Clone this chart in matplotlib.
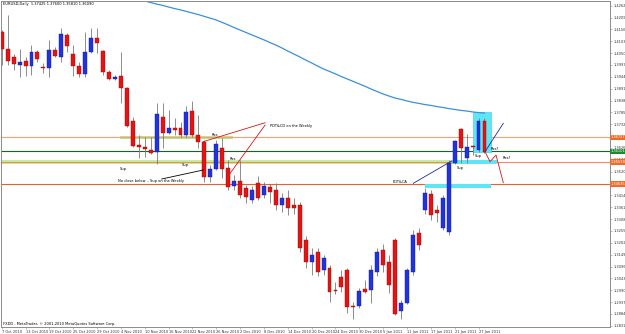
import matplotlib
matplotlib.use("Agg")
import matplotlib.pyplot as plt
from matplotlib.patches import Rectangle
import matplotlib.transforms as mtransforms

# ---------------- data ----------------
date_labels = ["7 Oct 2010", "13 Oct 2010", "19 Oct 2010", "25 Oct 2010", "29 Oct 2010",
               "4 Nov 2010", "10 Nov 2010", "16 Nov 2010", "22 Nov 2010", "26 Nov 2010",
               "2 Dec 2010", "8 Dec 2010", "14 Dec 2010", "20 Dec 2010", "24 Dec 2010",
               "30 Dec 2010", "5 Jan 2011", "11 Jan 2011", "17 Jan 2011", "21 Jan 2011",
               "27 Jan 2011"]
date_bars = [0, 4, 8, 12, 16, 20, 24, 28, 32, 36, 40, 44, 48, 52, 56, 60, 64, 68, 72, 76, 80]

opens = [1.4144, 1.4068, 1.4032, 1.3997, 1.4015, 1.3992, 1.4055, 1.3984, 1.3983, 1.4064,
         1.4032, 1.4131, 1.4046, 1.3992, 1.3957, 1.4055, 1.4117, 1.4059, 1.3965, 1.3934,
         1.3947, 1.3894, 1.3746, 1.3639, 1.3630, 1.3617, 1.3608, 1.3764, 1.3693, 1.3715,
         1.3715, 1.3684, 1.3791, 1.3684, 1.3653, 1.3496, 1.3532, 1.3626, 1.3536, 1.3456,
         1.3478, 1.3447, 1.3393, 1.3469, 1.3416, 1.3451, 1.3438, 1.3371, 1.3402, 1.3371,
         1.3371, 1.3215, 1.3116, 1.3161, 1.3080, 1.3089, 1.2991, 1.3049, 1.3080, 1.2920,
         1.2921, 1.2995, 1.2991, 1.3071, 1.3170, 1.3116, 1.3215, 1.2898, 1.2934, 1.3071,
         1.3246, 1.3349, 1.3420, 1.3349, 1.3268, 1.3250, 1.3557, 1.3711, 1.3580, 1.3629,
         1.3617, 1.3746]
highs = [1.4153, 1.4220, 1.4046, 1.4068, 1.4032, 1.4086, 1.4064, 1.4006, 1.4109, 1.4077,
         1.4162, 1.4140, 1.4086, 1.4010, 1.4144, 1.4162, 1.4162, 1.4064, 1.3974, 1.3952,
         1.4055, 1.3898, 1.3764, 1.3684, 1.3675, 1.3675, 1.3827, 1.3827, 1.3796, 1.3760,
         1.3742, 1.3812, 1.3836, 1.3773, 1.3662, 1.3550, 1.3662, 1.3671, 1.3572, 1.3505,
         1.3572, 1.3460, 1.3456, 1.3501, 1.3474, 1.3465, 1.3469, 1.3425, 1.3438, 1.3402,
         1.3384, 1.3232, 1.3179, 1.3179, 1.3148, 1.3103, 1.3027, 1.3080, 1.3089, 1.2939,
         1.3000, 1.3036, 1.3103, 1.3179, 1.3197, 1.3148, 1.3224, 1.2946, 1.3089, 1.3259,
         1.3268, 1.3447, 1.3438, 1.3371, 1.3416, 1.3572, 1.3662, 1.3715, 1.3688, 1.3639,
         1.3760, 1.3760]
lows = [1.3997, 1.3997, 1.3974, 1.3943, 1.3947, 1.3952, 1.4010, 1.3961, 1.3943, 1.4032,
        1.4010, 1.4055, 1.3947, 1.3943, 1.3943, 1.4050, 1.4050, 1.3952, 1.3930, 1.3930,
        1.3827, 1.3720, 1.3630, 1.3581, 1.3586, 1.3599, 1.3554, 1.3626, 1.3688, 1.3684,
        1.3675, 1.3675, 1.3675, 1.3626, 1.3474, 1.3474, 1.3527, 1.3492, 1.3438, 1.3438,
        1.3402, 1.3380, 1.3380, 1.3393, 1.3402, 1.3380, 1.3349, 1.3340, 1.3326, 1.3331,
        1.3161, 1.3089, 1.3058, 1.3054, 1.3058, 1.2937, 1.2973, 1.2982, 1.2888, 1.2860,
        1.2911, 1.2978, 1.2933, 1.3054, 1.3071, 1.2978, 1.2879, 1.2860, 1.2929, 1.3058,
        1.3170, 1.3331, 1.3304, 1.3295, 1.3259, 1.3237, 1.3554, 1.3559, 1.3559, 1.3594,
        1.3609, 1.3603]
closes = [1.4068, 1.4015, 1.4001, 1.4010, 1.3992, 1.4055, 1.4024, 1.3982, 1.4064, 1.4037,
          1.4135, 1.4082, 1.3992, 1.3957, 1.4055, 1.4117, 1.4095, 1.3965, 1.3934, 1.3943,
          1.3894, 1.3724, 1.3635, 1.3630, 1.3621, 1.3603, 1.3778, 1.3693, 1.3715, 1.3708,
          1.3684, 1.3787, 1.3684, 1.3653, 1.3496, 1.3532, 1.3644, 1.3532, 1.3451, 1.3478,
          1.3416, 1.3407, 1.3438, 1.3402, 1.3456, 1.3429, 1.3371, 1.3402, 1.3358, 1.3358,
          1.3179, 1.3116, 1.3148, 1.3071, 1.3134, 1.2982, 1.2987, 1.3004, 1.2916, 1.2915,
          1.2987, 1.2983, 1.3080, 1.3161, 1.3103, 1.3013, 1.2882, 1.2934, 1.3080, 1.3237,
          1.3192, 1.3425, 1.3326, 1.3335, 1.3402, 1.3559, 1.3658, 1.3626, 1.3632, 1.3628,
          1.3746, 1.3609]

ma_first_bar = 24
ma_values = [1.4283, 1.4276, 1.4269, 1.4263, 1.4256, 1.4249, 1.4243, 1.4236, 1.4229, 1.4222,
             1.4214, 1.4206, 1.4198, 1.4187, 1.4176, 1.4164, 1.4153, 1.4142, 1.4131, 1.4120,
             1.4109, 1.4097, 1.4086, 1.4073, 1.4059, 1.4046, 1.4033, 1.4019, 1.4006, 1.3992,
             1.3979, 1.3968, 1.3957, 1.3945, 1.3934, 1.3923, 1.3912, 1.3901, 1.3889, 1.3878,
             1.3867, 1.3858, 1.3849, 1.3843, 1.3836, 1.3830, 1.3825, 1.3820, 1.3816, 1.3811,
             1.3807, 1.3802, 1.3798, 1.3794, 1.3791, 1.3787, 1.3784, 1.3782]

price_ticks = [1.2831, 1.2884, 1.2937, 1.2990, 1.3043, 1.3096, 1.3149, 1.3202, 1.3255, 1.3308,
               1.3361, 1.3414, 1.3467, 1.3520, 1.3573, 1.3626, 1.3679, 1.3732, 1.3785, 1.3838,
               1.3891, 1.3944, 1.3997, 1.4050, 1.4103, 1.4156, 1.4209, 1.4262]

# horizontal levels: price, colour, label-box colour
levels = [(1.36727, "#f2a07e", "#f26a2a"),
          (1.36101, "#0b6b1e", "#1e8a2e"),
          (1.35618, "#f08a60", "#f26a2a"),
          (1.34635, "#e0603a", "#f26a2a")]

title_text = "EURUSD,Daily  1.37425 1.37600 1.35810 1.36090"
footer_text = "FXDD - MetaTrader, \u00a9 2001-2010 MetaQuotes Software Corp."

# ---------------- figure ----------------
W, H = 625, 334
fig = plt.figure(figsize=(W / 100, H / 100), dpi=100)
fig.patch.set_facecolor("white")
ax = fig.add_axes([0.5 / W, (H - 327.3) / H, (610 - 0.5) / W, (327.3 - 1) / H])
ax.set_xlim(-0.2, 102.06)
ax.set_ylim(1.28243, 1.42828)
ax.set_facecolor("white")

FS = 2.6
grey = "#8c8c8c"
for s in ax.spines.values():
    s.set_color(grey)
    s.set_linewidth(0.7)

# bands and level lines
ax.add_patch(Rectangle((-1, 1.35542), 76.6, 0.00157, facecolor="#c6eca0", edgecolor="none", zorder=1))
ax.add_patch(Rectangle((19.85, 1.36660), 18.95, 0.00134, facecolor="#b5e68c", edgecolor="none", zorder=1))
for p, c, bc in levels:
    ax.axhline(p, color=c, lw=0.8, zorder=1.2)
    ax.text(1.0015, p, f"{p:.5f}", transform=mtransforms.blended_transform_factory(ax.transAxes, ax.transData),
            fontsize=FS, color="white", va="center", ha="left", clip_on=False,
            bbox=dict(facecolor=bc, edgecolor="none", pad=0.6), zorder=6)

# cyan zones
cyan = "#5fe6f4"
ax.add_patch(Rectangle((79.03, 1.36079), 3.02, 1.37867 - 1.36079, facecolor=cyan, edgecolor="#3cc8dc", lw=0.4, zorder=1.5))
ax.add_patch(Rectangle((75.55, 1.35542), 7.55, 0.00179, facecolor=cyan, edgecolor="none", zorder=1.5))
ax.add_patch(Rectangle((71.0, 1.34469), 11.05, 0.00179, facecolor=cyan, edgecolor="none", zorder=1.5))

# moving average
ax.plot(range(ma_first_bar, ma_first_bar + len(ma_values)), ma_values, color="#3d8fd8", lw=0.9, zorder=2)

# candles
bw = 0.66
for i, (o, h, l, c) in enumerate(zip(opens, highs, lows, closes)):
    up = c >= o
    ax.vlines(i, l, h, color="#7a7a7a", lw=0.6, zorder=3)
    bottom = min(o, c)
    height = max(abs(c - o), 0.0005)
    ax.add_patch(Rectangle((i - bw / 2, bottom), bw, height,
                           facecolor="#2233dd" if up else "#e41414",
                           edgecolor="#101a8a" if up else "#9a0a0a", lw=0.3, zorder=3.5))

# annotations
ax.plot([44.2, 33.8], [1.37388, 1.36539], color="#d01818", lw=0.6, zorder=4)
ax.plot([44.2, 38.0], [1.37286, 1.35006], color="#d01818", lw=0.6, zorder=4)
ax.plot([26.85, 33.83], [1.34872, 1.35274], color="black", lw=0.6, zorder=4)
ax.plot([69.06, 75.5], [1.34680, 1.35676], color="#1a2aa8", lw=0.6, zorder=4)
ax.plot([81.09, 84.16], [1.36092, 1.37362], color="#1a2aa8", lw=0.6, zorder=4)
ax.plot([81.09, 81.93, 82.94, 84.16], [1.36092, 1.35645, 1.35944, 1.34706], color="#d01818", lw=0.6, zorder=4)

notes = [(45.0, 1.37254, "PDT&CD on the Weekly"),
         (19.5, 1.34782, "No close below .. Sup on the Weekly"),
         (19.85, 1.35305, "Sup"), (30.2, 1.35498, "Sup"),
         (35.2, 1.36839, "Res"), (38.2, 1.35752, "Res"),
         (65.6, 1.34724, "PDT&CA"), (79.4, 1.35900, "Sup"), (76.4, 1.35377, "Sup"),
         (82.1, 1.36213, "Res?"), (84.06, 1.35797, "Res?")]
for x, y, t in notes:
    ax.text(x, y, t, fontsize=FS, color="black", va="center", ha="left", zorder=5)

# axes ticks
ax.yaxis.tick_right()
ax.set_yticks(price_ticks)
ax.set_yticklabels([f"{v:.5f}" for v in price_ticks], fontsize=FS, color="#333333")
ax.set_xticks(date_bars)
ax.set_xticklabels(date_labels, fontsize=FS, ha="left", color="#333333")
ax.tick_params(axis="x", length=1.5, width=0.4, pad=0.6, colors=grey, labelcolor="#333333")
ax.tick_params(axis="y", length=1.5, width=0.4, pad=0.8, colors=grey, labelcolor="#333333")

fig.text(3 / W, 1 - 4.5 / H, title_text, fontsize=FS, va="center", ha="left")
fig.text(3 / W, 1 - 324.3 / H, footer_text, fontsize=FS, va="center", ha="left")

fig.savefig("out.png", dpi=100, facecolor="white")
